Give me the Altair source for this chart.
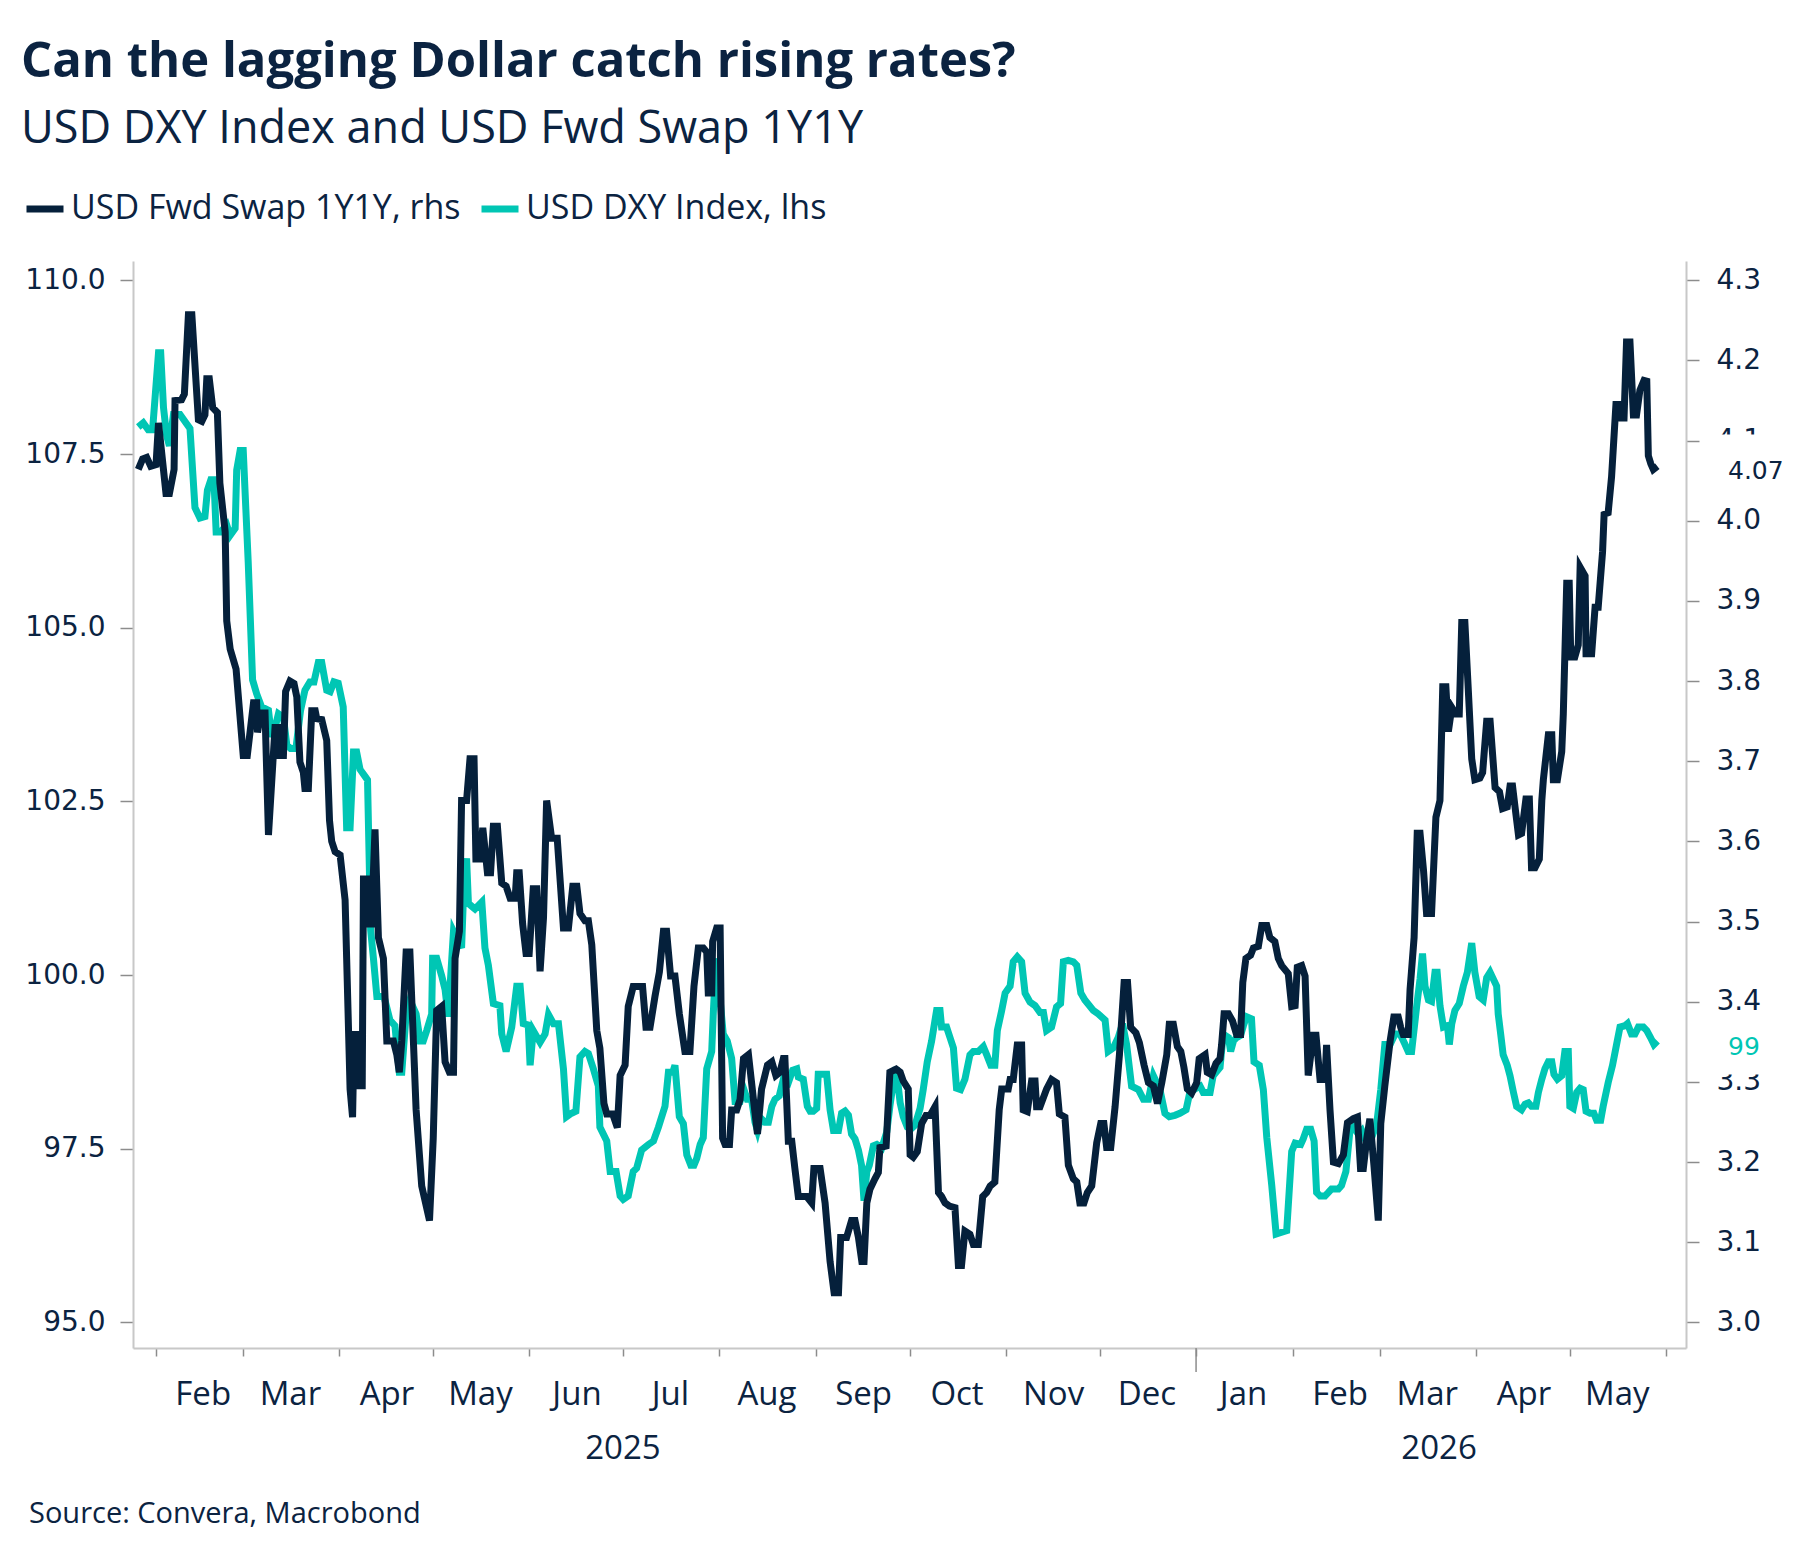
import altair as alt
import pandas as pd

NAVY = "#0b2341"
LINE_NAVY = "#05203b"
TEAL = "#00c6b4"
AXIS_GREY = "#c8c8c8"
TICK_GREY = "#8c8c8c"

SWAP = "USD Fwd Swap 1Y1Y, rhs"
DXY = "USD DXY Index, lhs"

# x positions are days since 2025-01-01
swap_days = [
    25.4, 26.8, 28.1, 29.4, 31.1, 31.9, 34.3, 35.4, 36.9, 37.2, 39.3, 40.2, 41.5, 42.6, 44.7, 45.8, 46.8, 47.4, 48.2, 49.3,
    50.8, 51.6, 53.3, 53.8, 54.9, 56.8, 59.1, 60.4, 62.4, 63.4, 63.7, 64.7, 66.1, 67.2, 69.3, 70.4, 70.9, 72.0, 72.7, 74.1,
    75.4, 76.3, 77.3, 78.4, 78.9, 80.0, 81.1, 82.2, 82.7, 84.3, 85.9, 86.8, 87.5, 88.6, 90.2, 91.8, 92.3, 93.4, 94.2, 94.7,
    95.5, 96.1, 97.3, 97.7, 98.7, 99.1, 100.3, 101.4, 102.5, 104.1, 105.2, 107.3, 108.4, 109.2, 110.0, 111.4, 112.6,
    114.6, 116.4, 118.9, 120.1, 121.2, 122.8, 123.9, 125.3, 126.6, 127.1, 128.5, 129.2, 130.8, 131.9, 133.2, 133.8, 135.1,
    136.0, 137.5, 138.5, 139.4, 140.7, 142.1, 143.5, 144.8, 146.4, 146.9, 147.7, 148.8, 149.9, 150.9, 152.2, 153.3, 154.4,
    155.5, 156.5, 158.1, 159.9, 161.9, 163.5, 164.9, 166.2, 167.2, 168.8, 169.9, 171.0, 172.6, 173.6, 174.9, 175.8, 177.7,
    179.2, 180.1, 181.7, 182.7, 184.3, 186.3, 187.3, 188.4, 189.7, 191.3, 192.7, 194.0, 195.0, 196.3, 197.7, 199.1,
    200.9, 202.5, 203.8, 205.2, 206.8, 207.9, 208.4, 209.5, 209.8, 211.1, 212.2, 213.0, 213.8, 215.2, 215.9, 217.5, 218.6,
    219.7, 221.3, 222.9, 224.2, 225.5, 227.4, 228.8, 230.1, 231.4, 232.5, 233.0, 234.1, 235.2, 236.2, 237.3, 238.7, 240.0,
    241.6, 242.3, 244.3, 245.9, 247.5, 248.8, 250.2, 250.9, 252.8, 254.4, 255.5, 256.6, 257.7, 258.4, 259.3, 260.3, 261.9,
    263.0, 263.5, 265.5, 266.7, 268.7, 270.0, 271.0, 272.6, 273.2, 274.2, 275.5, 276.9, 278.3, 279.6, 281.2, 282.3, 283.3,
    284.4, 285.8,
    287.6, 288.7, 289.7, 290.8, 292.4, 293.5, 295.1, 296.5, 297.8, 298.9, 300.4, 301.8, 302.6, 304.7, 305.3, 306.3, 307.6,
    309.0, 309.5, 310.8, 312.2, 313.3, 313.8, 314.9, 317.0, 318.6, 320.2, 321.1, 322.9, 324.0, 325.6, 326.7, 327.7, 329.0,
    330.1, 331.5, 333.1, 334.4, 335.4, 336.3, 337.6, 339.0, 340.4, 341.9, 343.0, 344.0, 345.7, 346.8, 348.3, 349.7, 351.3,
    352.6, 354.0, 355.6, 356.4, 357.7, 359.0, 360.1, 361.1, 362.2, 363.6, 365.2, 366.0, 367.9, 368.6, 370.0, 371.4, 372.7,
    373.2, 374.0, 375.4, 376.7, 378.0, 379.3, 380.0, 381.0, 382.5, 383.4, 385.0, 386.1, 387.7, 388.7, 390.3, 391.4, 392.5,
    394.6, 395.7, 396.8, 397.5, 398.9, 400.0, 401.0, 402.6, 403.5, 404.8, 406.4, 406.9, 408.0, 409.1, 410.7, 412.3, 413.6,
    415.5, 416.8, 417.8, 418.7, 419.8, 420.8, 422.1, 423.5, 424.3, 425.6, 427.3, 428.5, 429.9, 430.7, 431.5, 433.1, 433.7,
    435.0, 436.0, 436.9, 438.0, 439.0, 440.6, 442.0, 443.3, 444.2, 445.2, 446.0, 447.1, 448.4, 449.5, 450.3, 451.3, 452.4,
    453.5, 454.5, 456.1, 457.0, 458.3, 459.4,
    461.0, 462.4, 463.4, 464.9, 465.8, 466.6, 467.4, 468.5, 469.5, 470.9, 472.0, 472.7, 473.8, 475.2, 476.0, 476.5, 478.1,
    479.2, 479.7, 481.0, 482.4, 482.9, 484.0, 484.8, 485.3, 486.6, 487.7, 488.3, 489.9, 490.2, 492.0, 493.1, 494.1, 495.5,
    496.0, 497.3, 498.4, 499.8, 500.9, 501.6, 502.4, 503.2, 504.3, 505.4, 506.4, 507.5, 508.8, 509.7, 510.2, 511.0, 511.8,
    513.1,
]
swap_values = [
    4.064, 4.077, 4.079, 4.068, 4.070, 4.122, 4.034, 4.034, 4.064, 4.150, 4.151, 4.158, 4.257, 4.257, 4.126, 4.124, 4.132,
    4.177, 4.177, 4.141, 4.135, 4.047, 3.986, 3.875, 3.840, 3.815, 3.707, 3.707, 3.773, 3.773, 3.736, 3.760, 3.760, 3.608,
    3.742, 3.742, 3.707, 3.707, 3.787, 3.800, 3.797, 3.780, 3.699, 3.686, 3.666, 3.666, 3.763, 3.763, 3.753, 3.752, 3.726,
    3.626, 3.600, 3.587, 3.583, 3.527, 3.454, 3.291, 3.256, 3.359, 3.359, 3.295, 3.295, 3.553, 3.553, 3.497, 3.497, 3.615,
    3.480, 3.454, 3.351, 3.351, 3.334, 3.312, 3.351, 3.462, 3.462,
    3.265, 3.170, 3.127, 3.230, 3.389, 3.394, 3.325, 3.312, 3.312, 3.454, 3.488, 3.651, 3.651, 3.703, 3.703, 3.578, 3.578,
    3.617, 3.561, 3.561, 3.619, 3.619, 3.548, 3.544, 3.529, 3.529, 3.561, 3.561, 3.497, 3.460, 3.460, 3.541, 3.541, 3.438,
    3.505, 3.651, 3.604, 3.604, 3.492, 3.492, 3.544, 3.544, 3.510, 3.501, 3.501, 3.471, 3.364, 3.342, 3.273, 3.260, 3.260,
    3.243, 3.308, 3.321, 3.394, 3.419, 3.419, 3.419, 3.368, 3.368, 3.407, 3.437, 3.488, 3.488, 3.432, 3.432, 3.385,
    3.338, 3.338, 3.419, 3.467, 3.467, 3.462, 3.411, 3.411, 3.475, 3.492, 3.492, 3.230, 3.222, 3.222, 3.265, 3.265, 3.278,
    3.329, 3.334, 3.278, 3.235, 3.291, 3.321, 3.325, 3.308, 3.312, 3.329, 3.329, 3.226, 3.226, 3.192, 3.157, 3.157, 3.157,
    3.149, 3.192, 3.192, 3.149, 3.076, 3.037, 3.037, 3.106, 3.106, 3.127, 3.127, 3.106, 3.076, 3.076, 3.149, 3.166, 3.179,
    3.187, 3.218, 3.220, 3.312, 3.316, 3.312, 3.301, 3.291, 3.209, 3.206, 3.213, 3.248, 3.258, 3.258, 3.269, 3.162, 3.157,
    3.149, 3.145,
    3.143, 3.071, 3.071, 3.114, 3.110, 3.097, 3.097, 3.157, 3.162, 3.170, 3.175, 3.265, 3.291, 3.291, 3.303, 3.303, 3.346,
    3.346, 3.265, 3.263, 3.301, 3.301, 3.269, 3.269, 3.291, 3.303, 3.299, 3.260, 3.256, 3.196, 3.179, 3.175, 3.149, 3.149,
    3.162, 3.170, 3.224, 3.248, 3.248, 3.218, 3.218, 3.269, 3.334, 3.424, 3.424, 3.368, 3.361, 3.349, 3.321, 3.299, 3.295,
    3.273, 3.299, 3.334, 3.372, 3.372, 3.344, 3.338, 3.318, 3.291, 3.286, 3.299, 3.329, 3.334, 3.312, 3.309, 3.323, 3.329,
    3.346, 3.385, 3.385, 3.376, 3.359, 3.359, 3.424, 3.454, 3.458, 3.467, 3.469, 3.495, 3.495, 3.480, 3.475, 3.454, 3.445,
    3.435, 3.394, 3.395, 3.443, 3.445, 3.432, 3.308, 3.358, 3.358, 3.303, 3.303, 3.346, 3.265, 3.200, 3.198, 3.209, 3.249,
    3.254, 3.256, 3.192, 3.192, 3.229, 3.254, 3.196, 3.127, 3.248, 3.295, 3.351, 3.381, 3.381, 3.368, 3.359, 3.359, 3.415,
    3.480, 3.610, 3.610, 3.565, 3.510, 3.510, 3.630, 3.651, 3.793, 3.793, 3.737, 3.767, 3.759, 3.759, 3.873, 3.873, 3.789,
    3.703, 3.677, 3.679, 3.686, 3.750, 3.750,
    3.667, 3.662, 3.641, 3.643, 3.669, 3.669, 3.643, 3.608, 3.610, 3.653, 3.653, 3.567, 3.567, 3.578, 3.651, 3.677, 3.733,
    3.733, 3.677, 3.677, 3.712, 3.759, 3.922, 3.922, 3.830, 3.830, 3.845, 3.942, 3.931, 3.834, 3.834, 3.892, 3.892, 3.961,
    4.008, 4.010, 4.055, 4.145, 4.145, 4.128, 4.128, 4.223, 4.223, 4.132, 4.132, 4.163, 4.175, 4.174, 4.081, 4.071, 4.064,
    4.068,
]

dxy_days = [
    25.4, 27.0, 28.6, 30.0, 31.9, 32.6, 33.5, 34.5, 35.4, 36.7, 38.8, 40.4, 42.0, 43.6, 45.2, 46.8, 47.6, 48.7, 49.7, 50.4,
    51.9, 53.8, 54.9, 56.5, 57.0, 58.1, 59.1, 60.7, 62.1, 63.4, 65.0, 67.2, 68.2, 69.3, 70.4, 72.0, 73.1, 74.3, 76.0, 77.5,
    78.9, 80.5, 81.8, 83.2, 84.3, 85.9, 87.0, 88.2, 89.6, 91.2, 92.3, 93.4, 94.5, 95.5, 96.6, 98.2, 99.0, 100.0, 100.9,
    102.0, 104.3, 106.2, 107.8, 109.2, 110.0, 111.4, 112.6,
    114.6, 115.9, 116.9, 118.0, 119.6, 119.9, 121.2, 122.8, 123.9, 124.9, 126.6, 129.2, 129.8, 130.8, 131.4, 133.5, 135.7,
    136.7, 137.8, 139.4, 141.5, 142.1, 143.5, 145.3, 146.9, 148.0, 149.0, 150.6, 151.2, 152.2, 154.4, 156.0, 157.1, 158.7,
    160.3, 161.9, 162.9, 164.5, 165.9, 167.2, 168.8, 169.9, 171.5, 173.1, 173.6, 175.8, 176.9, 178.8, 180.1, 181.1, 182.7,
    184.3, 185.4, 187.0, 189.2, 190.8, 192.4, 194.5, 195.6, 197.0, 197.7, 199.1,
    200.4, 201.5, 202.8, 203.8, 204.7, 205.8, 206.8, 207.9, 209.5, 210.0, 210.9, 212.0, 213.2, 214.5, 215.9, 217.0, 218.6,
    219.7, 220.9, 222.3, 223.4, 224.2, 225.2, 226.6, 227.7, 228.8, 229.8, 231.2, 232.5, 234.1, 235.5, 236.8, 237.3, 238.9,
    240.2, 241.1, 242.1, 243.2, 243.7, 244.8, 246.4, 247.5, 248.6, 250.2, 251.2, 252.3, 253.4, 254.4, 255.5, 256.6, 257.6,
    258.4, 259.3, 260.1, 261.4, 262.5, 264.1, 265.7, 266.7, 267.8, 268.7, 270.0, 271.0, 272.3, 273.4, 274.8, 276.4, 277.4,
    278.7, 280.1, 281.7, 282.8, 283.3, 284.9, 286.0,
    287.1, 288.1, 289.4, 290.8, 292.4, 293.5, 295.1, 296.7, 297.8, 299.1, 300.4, 301.2, 302.6, 303.7, 305.3, 306.3, 307.6,
    309.0, 310.1, 311.7, 313.3, 314.9, 316.0, 317.0, 318.6, 320.2, 321.5, 322.4, 324.0, 325.6, 326.7, 328.0, 329.3, 332.0,
    333.6, 335.8, 336.8, 338.4, 340.0, 341.4, 342.7, 344.3, 346.5, 348.1, 349.7, 351.3, 353.4, 355.0, 356.4, 358.2, 359.8,
    361.8, 363.0, 365.0, 366.3, 367.3, 369.5, 370.5, 372.7,
    373.7, 375.4, 376.1, 377.0, 378.0, 379.3, 380.2, 381.2, 382.8, 383.6, 385.3, 386.6, 387.7, 389.3, 390.7, 392.0, 394.1,
    395.7, 396.8, 398.6, 399.4, 400.5, 401.8, 402.9, 403.7, 404.8, 406.4, 407.5, 408.5, 410.7, 411.7, 413.1, 414.4, 415.5,
    417.1, 418.2, 419.8, 421.4, 423.0, 424.3, 425.6, 427.3, 428.9, 430.5, 432.1, 433.1, 434.2, 435.8, 436.9, 437.7, 438.5,
    439.6, 440.6, 441.7, 442.4, 443.3, 444.4, 445.7, 446.3, 447.1, 448.1, 449.5, 450.8, 452.1, 453.5, 454.5, 455.9, 457.2,
    458.3, 459.4,
    461.5, 462.0, 462.8, 463.6, 464.9, 465.8, 466.9, 467.9, 469.5, 470.6, 471.7, 472.7, 474.1, 474.9, 476.0, 477.0, 478.1,
    479.2, 479.9, 481.0, 482.4, 483.4, 484.5, 485.0, 486.1, 487.2, 488.3, 489.3, 490.2, 491.5, 492.7, 493.6, 494.9, 495.7,
    497.3, 498.7, 500.0, 501.1, 502.7, 503.5, 504.8, 505.9, 507.0, 508.6, 509.7, 510.9, 512.0, 513.1,
]
dxy_values = [
    107.89, 107.95, 107.85, 107.85, 108.96, 108.96, 108.17, 107.77, 107.62, 108.07, 108.07, 107.97, 107.87, 106.73, 106.58,
    106.60, 106.98, 107.13, 107.13, 106.38, 106.38, 106.48, 106.33, 106.43, 107.27, 107.55, 107.55, 105.94, 104.25, 104.05,
    103.86, 103.81, 103.43, 103.56, 103.76, 103.71, 103.31, 103.26, 103.26, 103.81, 104.10, 104.22, 104.22, 104.50, 104.50,
    104.10, 104.08, 104.22, 104.20, 103.86, 102.12, 102.12, 103.21, 103.21, 102.96, 102.86, 102.81, 100.65, 100.24, 99.69,
    99.69, 99.35, 99.27, 98.60, 98.60, 99.44, 99.64,
    99.44, 99.05, 99.05, 99.20, 99.44, 100.24, 100.24, 99.99, 99.79, 99.40, 100.63, 100.39, 101.13, 101.68, 101.03, 100.95,
    101.05, 100.39, 100.14, 99.59, 99.56, 99.15, 98.90, 99.25, 99.84, 99.84, 99.30, 99.28, 98.70, 99.20, 99.03, 99.15,
    99.43, 99.30, 99.30, 98.65, 97.96, 98.01, 98.04, 98.82, 98.90, 98.87, 98.65, 98.40, 97.81, 97.61, 97.17, 97.17, 96.82,
    96.77, 96.82, 97.17, 97.22, 97.48, 97.56, 97.61, 97.81, 98.11, 98.60, 98.60, 98.70, 97.96,
    97.86, 97.41, 97.26, 97.26, 97.36, 97.56, 97.66, 98.65, 98.90, 99.44, 100.24, 99.74, 99.15, 99.05, 98.80, 98.18, 98.18,
    98.37, 98.21, 98.21, 97.88, 97.76, 97.94, 97.88, 97.88, 98.11, 98.21, 98.26, 98.50, 98.45, 98.63, 98.65, 98.53, 98.50,
    98.11, 98.04, 98.04, 98.08, 98.57, 98.57, 98.57, 98.06, 97.76, 97.76, 98.01, 98.04, 97.98, 97.71, 97.64, 97.48, 97.26,
    96.75, 97.17, 97.26, 97.54, 97.56, 97.51, 97.74, 98.11, 98.45, 98.67, 98.16, 97.96, 97.81, 97.78, 97.84, 98.08, 98.35,
    98.75, 99.05, 99.49, 99.49, 99.25, 99.25, 99.10,
    98.95, 98.37, 98.35, 98.50, 98.85, 98.90, 98.90, 98.97, 98.85, 98.70, 98.70, 99.20, 99.49, 99.74, 99.84, 100.19, 100.26,
    100.19, 99.74, 99.61, 99.56, 99.46, 99.46, 99.20, 99.25, 99.54, 99.59, 100.19, 100.21, 100.19, 100.14, 99.74, 99.64,
    99.49, 99.44, 99.35, 98.90, 98.95, 99.10, 99.30, 99.00, 98.40, 98.35, 98.21, 98.21, 98.55, 98.35, 98.01, 97.96, 97.98,
    98.01, 98.06, 98.31, 98.37, 98.40, 98.31, 98.31, 98.55, 98.67,
    99.15, 99.10, 98.90, 99.05, 99.10, 99.13, 99.27, 99.40, 99.37, 98.75, 98.70, 98.35, 97.66, 96.97, 96.27, 96.29, 96.32,
    97.46, 97.58, 97.56, 97.64, 97.78, 97.78, 97.61, 96.87, 96.82, 96.82, 96.87, 96.92, 96.92, 96.97, 97.17, 97.76, 97.81,
    97.71, 97.76, 97.58, 97.66, 97.86, 98.35, 99.00, 99.00, 99.15, 99.15, 99.00, 98.90, 98.90, 99.54, 99.94, 100.31, 99.84,
    99.64, 99.62, 100.04, 100.04, 99.56, 99.25, 99.27, 99.00, 99.30, 99.49, 99.59, 99.84, 100.04, 100.46, 100.04, 99.69,
    99.64, 99.96, 100.04,
    99.84, 99.44, 99.15, 98.85, 98.70, 98.55, 98.31, 98.11, 98.06, 98.14, 98.16, 98.11, 98.11, 98.31, 98.50, 98.65, 98.75,
    98.75, 98.57, 98.50, 98.55, 98.90, 98.90, 98.11, 98.08, 98.31, 98.37, 98.35, 98.04, 98.01, 98.01, 97.91, 97.91, 98.11,
    98.45, 98.70, 99.00, 99.25, 99.27, 99.30, 99.15, 99.15, 99.25, 99.25, 99.20, 99.10, 99.00, 99.05,
]

left_ticks = [95.0, 97.5, 100.0, 102.5, 105.0, 107.5, 110.0]
right_ticks = [3.0, 3.1, 3.2, 3.3, 3.4, 3.5, 3.6, 3.7, 3.8, 3.9, 4.0, 4.1, 4.2, 4.3]
month_starts = [(2025, m) for m in range(2, 13)] + [(2026, m) for m in range(1, 7)]
year_labels = ["2025", "2026"]
year_label_dates = ["2025-07-01", "2026-03-20"]
swap_end_label = ["4.07"]
swap_end_value = [4.07]
dxy_end_label = ["99"]
dxy_end_value = [99.0]

assert len(swap_days) == len(swap_values), (len(swap_days), len(swap_values))
assert len(dxy_days) == len(dxy_values), (len(dxy_days), len(dxy_values))

BASE = pd.Timestamp("2025-01-01")


def to_dates(days):
    return [BASE + pd.Timedelta(days=d) for d in days]


swap_df = pd.DataFrame({"date": to_dates(swap_days), "value": swap_values, "series": SWAP})
dxy_df = pd.DataFrame({"date": to_dates(dxy_days), "value": dxy_values, "series": DXY})
years_df = pd.DataFrame({"date": pd.to_datetime(year_label_dates), "label": year_labels})
jan_df = pd.DataFrame({"date": [pd.Timestamp("2026-01-01")]})
swap_end_df = pd.DataFrame({"value": swap_end_value, "label": swap_end_label})
dxy_end_df = pd.DataFrame({"value": dxy_end_value, "label": dxy_end_label})

W, H = 1553, 1087

x_axis = alt.Axis(
    values=[alt.DateTime(year=y, month=m, date=1) for y, m in month_starts],
    format="%b",
    labelExpr="(year(datum.value) == 2026 && month(datum.value) == 5) ? '' : datum.label",
    labelOffset=47, labelAlign="center", labelPadding=22,
    labelFont="Open Sans", labelFontSize=33, labelColor=NAVY,
    tickSize=8, tickColor=TICK_GREY, tickWidth=1.5,
    domainColor=AXIS_GREY, domainWidth=2, grid=False,
    labelOverlap=False, labelFlush=False, labelBound=False, title=None,
)
x_enc = alt.X(
    "date:T",
    scale=alt.Scale(domain=[alt.DateTime(year=2025, month=1, date=24, hours=17),
                            alt.DateTime(year=2026, month=6, date=7, hours=7)]),
    axis=x_axis,
)

left_scale = alt.Scale(domain=[94.63, 110.28], nice=False, zero=False)
right_scale = alt.Scale(domain=[2.968, 4.324], nice=False, zero=False)

common_axis = dict(tickSize=13, tickColor=TICK_GREY, tickWidth=1.5, domainColor=AXIS_GREY,
                   domainWidth=2, labelFont="DejaVu Sans", labelFontSize=28, labelColor=NAVY,
                   grid=False, title=None, format=".1f")
left_axis = alt.Axis(orient="left", values=left_ticks, labelPadding=15, **common_axis)
right_axis = alt.Axis(orient="right", values=right_ticks, labelPadding=17, **common_axis)

left_y = alt.Y("value:Q", scale=left_scale, axis=left_axis)
right_y = alt.Y("value:Q", scale=right_scale, axis=right_axis)

color_enc = alt.Color(
    "series:N",
    scale=alt.Scale(domain=[SWAP, DXY], range=[LINE_NAVY, TEAL]),
    legend=alt.Legend(
        orient="none", legendX=-110, legendY=-74, direction="horizontal",
        symbolType="stroke", symbolStrokeWidth=7, symbolSize=1369,
        labelFont="Open Sans", labelFontSize=34, labelColor=NAVY, labelOffset=4,
        labelLimit=800, columnPadding=6, padding=0, title=None,
    ),
)

box_shape = "M-1,-0.75L1,-0.75L1,0.75L-1,0.75Z"

dxy_line = alt.Chart(dxy_df).mark_line(strokeWidth=7).encode(x=x_enc, y=left_y, color=color_enc)
dxy_box = alt.Chart(dxy_end_df).mark_point(shape=box_shape, size=6400, filled=True, opacity=1,
                                           color="white").encode(x=alt.value(1622), y=left_y)
dxy_text = alt.Chart(dxy_end_df).mark_text(align="left", baseline="middle", font="DejaVu Sans",
                                           fontSize=25, color=TEAL, dy=3).encode(
    x=alt.value(1595), y=left_y, text="label:N")

swap_line = alt.Chart(swap_df).mark_line(strokeWidth=7).encode(x=x_enc, y=right_y, color=color_enc)
swap_box = alt.Chart(swap_end_df).mark_point(shape=box_shape, size=6400, filled=True, opacity=1,
                                             color="white").encode(x=alt.value(1622), y=right_y)
swap_text = alt.Chart(swap_end_df).mark_text(align="left", baseline="middle", font="DejaVu Sans",
                                             fontSize=25, color=NAVY, dy=6).encode(
    x=alt.value(1595), y=right_y, text="label:N")

dxy_group = alt.layer(dxy_line, dxy_box, dxy_text)
swap_group = alt.layer(swap_line, swap_box, swap_text)

jan_tick = alt.Chart(jan_df).mark_rule(color=TICK_GREY, strokeWidth=1.5).encode(
    x=x_enc, y=alt.value(H), y2=alt.value(H + 24))
year_text = alt.Chart(years_df).mark_text(align="center", baseline="alphabetic", font="Open Sans",
                                          fontSize=33, color=NAVY).encode(
    x=x_enc, y=alt.value(H + 111), text="label:N")

title_df = pd.DataFrame({"t": ["Can the lagging Dollar catch rising rates?"]})
subtitle_df = pd.DataFrame({"t": ["USD DXY Index and USD Fwd Swap 1Y1Y"]})
source_df = pd.DataFrame({"t": ["Source: Convera, Macrobond"]})

title = alt.Chart(title_df).mark_text(align="left", baseline="alphabetic", font="Open Sans",
                                      fontWeight="bold", fontSize=49, color=NAVY).encode(
    x=alt.value(-112), y=alt.value(-184), text="t:N")
subtitle = alt.Chart(subtitle_df).mark_text(align="left", baseline="alphabetic", font="Open Sans",
                                            fontSize=45, color=NAVY).encode(
    x=alt.value(-112), y=alt.value(-118), text="t:N")
source = alt.Chart(source_df).mark_text(align="left", baseline="alphabetic", font="Open Sans",
                                        fontSize=29, color=NAVY).encode(
    x=alt.value(-104), y=alt.value(1262), text="t:N")

chart = alt.layer(
    dxy_group, swap_group, jan_tick, year_text, title, subtitle, source
).resolve_scale(y="independent").properties(
    width=W, height=H,
    autosize=alt.AutoSizeParams(type="none"),
    padding={"left": 133, "top": 261, "right": 133, "bottom": 214},
    background="white",
).configure_view(stroke="transparent")

chart.save("out.html", embed_options={"renderer": "svg", "actions": False})
